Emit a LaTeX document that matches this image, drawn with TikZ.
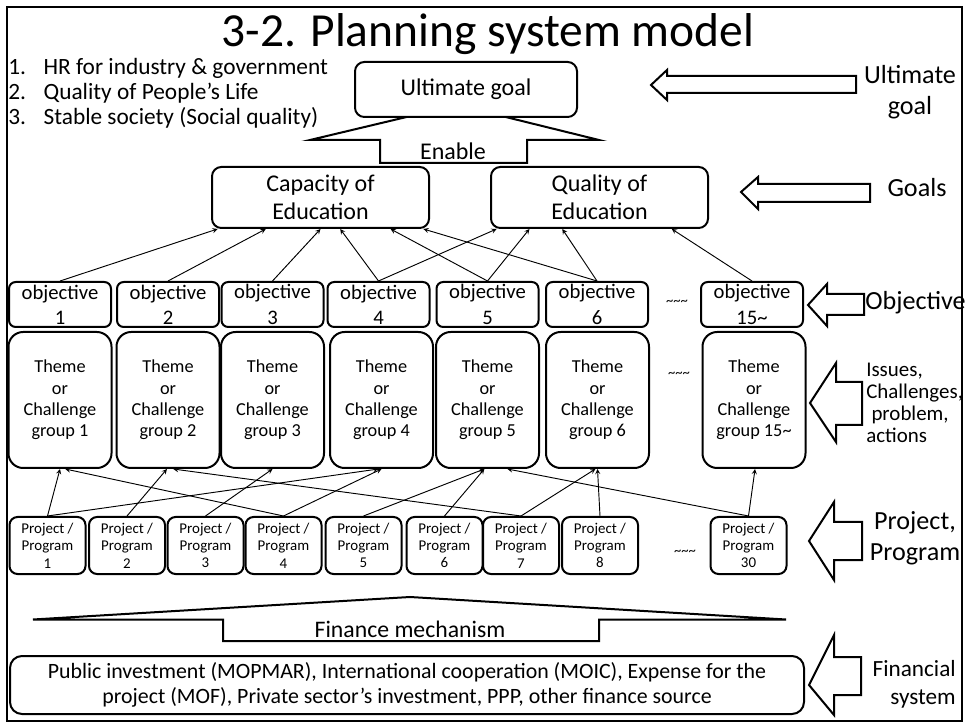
\documentclass[tikz,border=0pt]{standalone}
\usepackage{fontspec}
\setmainfont{Carlito}
\usetikzlibrary{calc}
\newcommand{\fsize}[2]{\fontsize{#1}{#2}\selectfont}

\begin{document}
\begin{tikzpicture}[x=0.75pt,y=-0.75pt,>=stealth,
  roundbox/.style={draw,line width=1.5pt,fill=white,align=center,inner sep=0pt},
  goalbox/.style={roundbox,rounded corners=7pt,minimum width=162.75pt,minimum height=45.75pt,font=\fsize{18}{21}},
  objbox/.style={roundbox,rounded corners=5pt,minimum width=76.5pt,minimum height=33.75pt,font=\fsize{15.5}{19}},
  themebox/.style={roundbox,rounded corners=11pt,minimum width=77.25pt,minimum height=102pt,font=\fsize{13.7}{16}},
  projbox/.style={roundbox,rounded corners=6pt,minimum width=57pt,minimum height=42.75pt,font=\fsize{11.2}{13}},
  conn/.style={->,line width=0.7pt},
  blockarrow/.style={draw,line width=1.5pt,fill=white,line join=miter},
  sidelabel/.style={font=\fsize{19.6}{23},align=center},
  tildes/.style={font=\fsize{11}{13}}]
  \useasboundingbox (0,0) rectangle (968,723);
  \draw[line width=2.2pt] (7,7) rectangle (962,721);
  % title and aims
  \node[anchor=base,font=\fsize{35.6}{40}] (title) at (488,47) {3-2. Planning system model};
  \foreach \n/\y/\t in {1/75/HR for industry \& government,2/100/Quality of People's Life,3/125/Stable society (Social quality)}
    \node[anchor=base west,inner sep=0pt,font=\fsize{17.5}{21}] (aim\n) at (8,\y) {\makebox[26.5pt][l]{\n.}\t};
  % enable arrow and goals
  \draw[blockarrow] (380,163) -- (380,140) -- (310,140) -- (457,105) -- (599,140) -- (527,140) -- (527,163) -- cycle;
  \node[goalbox,minimum width=166.5pt,minimum height=41.25pt] (ultimate) at (466,89.5) {Ultimate goal};
  \node[font=\fsize{18}{21}] (enable) at (453,151) {Enable};
  \node[goalbox] (cap) at (320.5,197.5) {Capacity of\\Education};
  \node[goalbox] (qual) at (599.5,197.5) {Quality of\\Education};
  % objectives, themes, projects
  \foreach \i/\x/\t in {1/60/1,2/168/2,3/272.5/3,4/378.5/4,5/487.5/5,6/597/6,15/752/15\textasciitilde}
    \node[objbox] (o\i) at (\x,304.5) {objective\\\t};
  \node[tildes] (otil) at (677,303) {\textasciitilde\textasciitilde\textasciitilde};
  \foreach \i/\x/\t in {1/60/1,2/168/2,3/272.5/3,4/381.5/4,5/487.5/5,6/597.5/6,15/754/15\textasciitilde}
    \node[themebox] (t\i) at (\x,400) {Theme\\or\\Challenge\\group \t};
  \node[tildes] (ttil) at (679,375) {\textasciitilde\textasciitilde\textasciitilde};
  \foreach \i/\x in {1/47.5,2/127,3/205.5,4/283.5,5/363.5,6/444.5,7/521,8/600,30/748.5}
    \node[projbox] (p\i) at (\x,545.5) {Project /\\Program\\\i};
  \node[tildes] (ptil) at (685,553) {\textasciitilde\textasciitilde\textasciitilde};
  % links
  \foreach \a/\f in {o1/.03,o2/.25,o3/.5,o4/.59,o5/.82,o6/.97}
    \draw[conn] (\a.north) -- ($(cap.south west)!\f!(cap.south east)$);
  \foreach \a/\f in {o4/.03,o5/.18,o6/.33,o15/.83}
    \draw[conn] (\a.north) -- ($(qual.south west)!\f!(qual.south east)$);
  \foreach \p/\t/\f in {p1/t1/.5,p1/t4/.47,p2/t2/.49,p3/t3/.5,p4/t1/.55,p4/t4/.5,p5/t5/.47,p6/t5/.47,p7/t2/.55,p7/t6/.48,p8/t6/.5,p30/t15/.51,p30/t5/.69}
    \draw[conn] (\p.north) -- ($(\t.south west)!\f!(\t.south east)$);
  % finance
  \draw[blockarrow] (223,641) -- (223,619.5) -- (33,619.5) -- (410,597) -- (786,619.5) -- (599,619.5) -- (599,641) -- cycle;
  \node[font=\fsize{17.8}{21}] (finmech) at (410,629) {Finance mechanism};
  \node[roundbox,rounded corners=9pt,minimum width=595.5pt,minimum height=43.5pt,font=\fsize{16.4}{18.75}] (sources) at (407,685)
    {Public investment (MOPMAR), International cooperation (MOIC), Expense for the\\project (MOF), Private sector's investment, PPP, other finance source};
  % level arrows
  \draw[blockarrow] (651,85) -- (667,70) -- (667,76) -- (856,76) -- (856,93) -- (667,93) -- (667,100) -- cycle;
  \draw[blockarrow] (741,192) -- (758,177) -- (758,184) -- (870,184) -- (870,202) -- (758,202) -- (758,209) -- cycle;
  \draw[blockarrow] (808,305) -- (827,284) -- (827,294) -- (864,294) -- (864,315) -- (827,315) -- (827,326) -- cycle;
  \draw[blockarrow] (810,403) -- (836,363) -- (836,382) -- (862,382) -- (862,425) -- (836,425) -- (836,442) -- cycle;
  \draw[blockarrow] (809,541) -- (834,502) -- (834,522) -- (862,522) -- (862,560) -- (834,560) -- (834,580) -- cycle;
  \draw[blockarrow] (809,685) -- (834,635) -- (834,657) -- (861,657) -- (861,695) -- (834,695) -- (834,715) -- cycle;
  \node[sidelabel] (lultimate) at (910,92.5) {Ultimate\\goal};
  \node[sidelabel] (lgoals) at (917,188) {Goals};
  \node[sidelabel,anchor=west,inner sep=0pt] (lobj) at (865,303) {Objective};
  \node[font=\fsize{15.7}{16.5},align=left,anchor=west,inner sep=0pt] (lissues) at (866,403) {Issues,\\Challenges,\\\hspace*{0.25em}problem,\\actions};
  \node[sidelabel] (lproj) at (915,538) {Project,\\Program};
  \node[font=\fsize{17.4}{21},align=right,anchor=east,inner sep=0pt] (lfin) at (956,684) {Financial\\system};
\end{tikzpicture}
\end{document}
